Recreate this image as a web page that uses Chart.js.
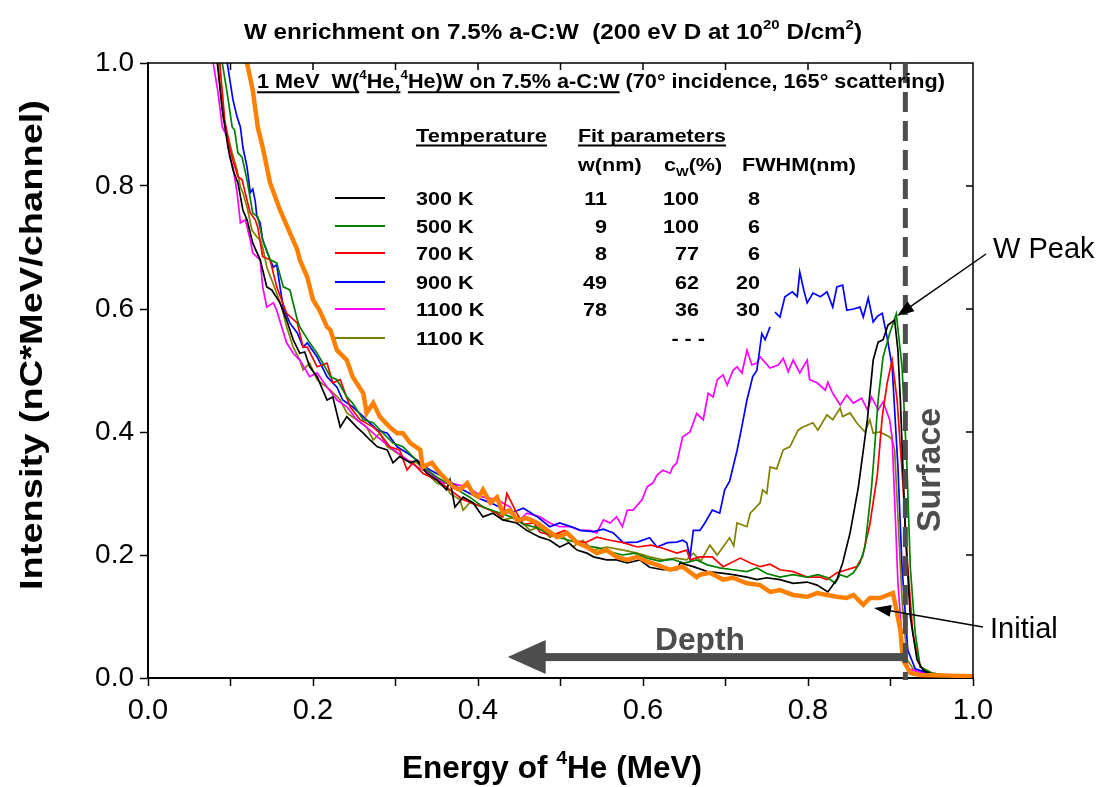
<!DOCTYPE html>
<html>
<head>
<meta charset="utf-8">
<script src="https://cdn.jsdelivr.net/npm/chart.js@4.4.1/dist/chart.umd.min.js"></script>
<style>
	html, body { margin: 0; padding: 0; background: #fff; }
	#grafico { display: block; }
</style>
</head>
<body>
<canvas id="grafico" width="1098" height="787"></canvas>
<script>
const ENERGIA_SUPERFICIE = 0.918

// espectros: [energia (MeV), intensidade]
const inicial = [
	[0.118, 1.06], [0.120, 1.0], [0.127, 0.956], [0.133, 0.896], [0.139, 0.863], [0.148, 0.805],
	[0.160, 0.761], [0.172, 0.724], [0.181, 0.696], [0.184, 0.68], [0.193, 0.652], [0.200, 0.615],
	[0.208, 0.598], [0.217, 0.571], [0.221, 0.566], [0.229, 0.533], [0.241, 0.517], [0.248, 0.49],
	[0.261, 0.463], [0.265, 0.431], [0.273, 0.447], [0.281, 0.425], [0.293, 0.408], [0.302, 0.398],
	[0.309, 0.398], [0.318, 0.382], [0.330, 0.371], [0.333, 0.343], [0.344, 0.35], [0.354, 0.333],
	[0.362, 0.322], [0.370, 0.311], [0.378, 0.306], [0.387, 0.317], [0.394, 0.3], [0.401, 0.294],
	[0.406, 0.306], [0.415, 0.285], [0.423, 0.294], [0.430, 0.268], [0.439, 0.273], [0.447, 0.257],
	[0.459, 0.26], [0.472, 0.252], [0.484, 0.24], [0.496, 0.229], [0.508, 0.236], [0.520, 0.22],
	[0.532, 0.213], [0.544, 0.203], [0.556, 0.208], [0.568, 0.197], [0.581, 0.192], [0.593, 0.197],
	[0.605, 0.189], [0.617, 0.184], [0.633, 0.176], [0.648, 0.181], [0.665, 0.164], [0.669, 0.168],
	[0.681, 0.171], [0.697, 0.16], [0.709, 0.163], [0.726, 0.154], [0.742, 0.151], [0.754, 0.14],
	[0.766, 0.143], [0.782, 0.135], [0.799, 0.132], [0.811, 0.138], [0.823, 0.135], [0.835, 0.132],
	[0.847, 0.13], [0.855, 0.135], [0.867, 0.119], [0.875, 0.13], [0.887, 0.13], [0.903, 0.138],
	[0.912, 0.078], [0.915, 0.03], [0.924, 0.008], [0.936, 0.005], [1.0, 0.003],
]
const t300 = [
	[0.080, 1.06], [0.084, 1.0], [0.090, 0.924], [0.097, 0.863], [0.103, 0.826], [0.109, 0.805],
	[0.115, 0.761], [0.120, 0.745], [0.127, 0.707], [0.136, 0.68], [0.144, 0.636], [0.150, 0.631],
	[0.160, 0.61], [0.168, 0.582], [0.176, 0.55], [0.184, 0.528], [0.190, 0.53], [0.196, 0.506],
	[0.205, 0.49], [0.217, 0.452], [0.224, 0.457], [0.233, 0.408], [0.241, 0.425], [0.253, 0.408],
	[0.261, 0.398], [0.269, 0.387], [0.278, 0.376], [0.290, 0.371], [0.297, 0.35], [0.305, 0.36],
	[0.318, 0.35], [0.326, 0.354], [0.338, 0.333], [0.350, 0.322], [0.362, 0.306], [0.366, 0.322],
	[0.372, 0.278], [0.382, 0.294], [0.394, 0.285], [0.406, 0.262], [0.418, 0.268], [0.430, 0.257],
	[0.447, 0.252], [0.459, 0.24], [0.475, 0.229], [0.487, 0.224], [0.499, 0.213], [0.510, 0.22],
	[0.520, 0.208], [0.532, 0.203], [0.540, 0.197], [0.556, 0.192], [0.568, 0.192], [0.581, 0.187],
	[0.596, 0.192], [0.608, 0.18], [0.624, 0.176], [0.641, 0.176], [0.645, 0.187], [0.661, 0.181],
	[0.678, 0.173], [0.693, 0.171], [0.709, 0.168], [0.726, 0.164], [0.738, 0.16], [0.750, 0.163],
	[0.766, 0.16], [0.782, 0.154], [0.799, 0.156], [0.811, 0.151], [0.824, 0.14], [0.835, 0.16],
	[0.842, 0.187], [0.851, 0.236], [0.861, 0.31], [0.872, 0.42], [0.879, 0.517], [0.885, 0.546],
	[0.891, 0.55], [0.897, 0.574], [0.905, 0.582], [0.909, 0.533], [0.912, 0.45], [0.918, 0.236],
	[0.924, 0.10], [0.932, 0.03], [0.940, 0.012], [0.950, 0.006], [0.970, 0.004], [1.0, 0.003],
]
const t500 = [
	[0.086, 1.06], [0.090, 1.0], [0.096, 0.951], [0.102, 0.896], [0.105, 0.891], [0.109, 0.854],
	[0.114, 0.847], [0.120, 0.81], [0.127, 0.756], [0.133, 0.75], [0.139, 0.712], [0.148, 0.68],
	[0.156, 0.675], [0.164, 0.636], [0.172, 0.631], [0.181, 0.582], [0.184, 0.571], [0.196, 0.545],
	[0.205, 0.528], [0.212, 0.512], [0.221, 0.49], [0.229, 0.485], [0.241, 0.457], [0.248, 0.447],
	[0.261, 0.42], [0.273, 0.415], [0.285, 0.398], [0.297, 0.382], [0.309, 0.376], [0.321, 0.36],
	[0.333, 0.343], [0.350, 0.327], [0.362, 0.317], [0.375, 0.306], [0.390, 0.294], [0.406, 0.278],
	[0.423, 0.27], [0.440, 0.262], [0.455, 0.25], [0.470, 0.245], [0.485, 0.235], [0.500, 0.228],
	[0.515, 0.222], [0.530, 0.215], [0.545, 0.212], [0.560, 0.205], [0.575, 0.2], [0.590, 0.203],
	[0.605, 0.195], [0.620, 0.19], [0.635, 0.193], [0.650, 0.187], [0.665, 0.192], [0.678, 0.184],
	[0.693, 0.179], [0.709, 0.176], [0.726, 0.173], [0.738, 0.179], [0.750, 0.17], [0.766, 0.164],
	[0.782, 0.168], [0.799, 0.164], [0.812, 0.168], [0.824, 0.163], [0.833, 0.154], [0.839, 0.168],
	[0.847, 0.164], [0.855, 0.171], [0.863, 0.187], [0.869, 0.213], [0.873, 0.26], [0.877, 0.31],
	[0.880, 0.36], [0.885, 0.452], [0.891, 0.522], [0.899, 0.56], [0.907, 0.592], [0.914, 0.506],
	[0.920, 0.343], [0.924, 0.18], [0.930, 0.073], [0.936, 0.018], [0.950, 0.008], [0.970, 0.004],
	[1.0, 0.003],
]
const t700 = [
	[0.083, 1.06], [0.087, 1.0], [0.093, 0.907], [0.099, 0.863], [0.103, 0.842], [0.109, 0.815],
	[0.114, 0.81], [0.120, 0.777], [0.124, 0.756], [0.130, 0.745], [0.133, 0.733], [0.139, 0.685],
	[0.148, 0.68], [0.156, 0.636], [0.168, 0.593], [0.181, 0.577], [0.188, 0.538], [0.193, 0.538],
	[0.205, 0.506], [0.217, 0.512], [0.224, 0.48], [0.233, 0.485], [0.245, 0.441], [0.257, 0.42],
	[0.273, 0.408], [0.281, 0.398], [0.293, 0.376], [0.305, 0.371], [0.314, 0.338], [0.321, 0.35],
	[0.333, 0.333], [0.350, 0.322], [0.366, 0.306], [0.382, 0.29], [0.406, 0.278], [0.420, 0.27],
	[0.430, 0.262], [0.435, 0.30], [0.447, 0.268], [0.455, 0.25], [0.468, 0.252], [0.475, 0.237],
	[0.490, 0.232], [0.505, 0.24], [0.515, 0.224], [0.530, 0.22], [0.544, 0.229], [0.560, 0.224],
	[0.576, 0.22], [0.593, 0.213], [0.610, 0.216], [0.624, 0.211], [0.641, 0.203], [0.653, 0.208],
	[0.657, 0.192], [0.669, 0.197], [0.684, 0.197], [0.697, 0.181], [0.718, 0.195], [0.730, 0.187],
	[0.742, 0.181], [0.754, 0.185], [0.766, 0.176], [0.782, 0.173], [0.799, 0.164], [0.815, 0.164],
	[0.823, 0.16], [0.835, 0.171], [0.847, 0.176], [0.859, 0.181], [0.866, 0.197], [0.875, 0.25],
	[0.884, 0.33], [0.890, 0.425], [0.896, 0.48], [0.902, 0.517], [0.908, 0.452], [0.915, 0.317],
	[0.921, 0.18], [0.927, 0.073], [0.936, 0.018], [0.950, 0.008], [0.970, 0.004], [1.0, 0.003],
]
const t900 = [
	[0.092, 1.06], [0.096, 1.0], [0.103, 0.94], [0.108, 0.912], [0.112, 0.896], [0.115, 0.863],
	[0.120, 0.831], [0.124, 0.789], [0.127, 0.795], [0.130, 0.775], [0.132, 0.75], [0.136, 0.74],
	[0.139, 0.712], [0.148, 0.68], [0.152, 0.668], [0.156, 0.672], [0.160, 0.636], [0.164, 0.603],
	[0.172, 0.577], [0.181, 0.561], [0.188, 0.538], [0.193, 0.545], [0.205, 0.522], [0.217, 0.49],
	[0.229, 0.473], [0.236, 0.452], [0.248, 0.441], [0.261, 0.425], [0.278, 0.403], [0.290, 0.398],
	[0.302, 0.376], [0.314, 0.366], [0.326, 0.354], [0.342, 0.338], [0.358, 0.327], [0.375, 0.311],
	[0.390, 0.3], [0.405, 0.29], [0.420, 0.282], [0.439, 0.268], [0.455, 0.276], [0.472, 0.262],
	[0.487, 0.246], [0.499, 0.252], [0.515, 0.245], [0.524, 0.24], [0.540, 0.238], [0.552, 0.242],
	[0.564, 0.236], [0.576, 0.22], [0.593, 0.221], [0.608, 0.228], [0.617, 0.213], [0.630, 0.22],
	[0.641, 0.221], [0.648, 0.224], [0.653, 0.22], [0.657, 0.197], [0.661, 0.24], [0.669, 0.24],
	[0.675, 0.252], [0.684, 0.273], [0.693, 0.268], [0.699, 0.306], [0.705, 0.32], [0.714, 0.37],
	[0.720, 0.41], [0.726, 0.452], [0.733, 0.49], [0.738, 0.5], [0.744, 0.56], [0.748, 0.55],
	[0.754, 0.571], [0.757, null], [0.760, 0.595], [0.766, 0.587], [0.772, 0.62], [0.781, 0.628],
	[0.787, 0.62], [0.790, 0.66], [0.795, 0.63], [0.799, 0.61], [0.806, 0.626], [0.815, 0.62],
	[0.823, 0.628], [0.830, 0.603], [0.835, 0.636], [0.842, 0.639], [0.847, 0.598], [0.855, 0.6],
	[0.863, 0.603], [0.867, 0.587], [0.873, 0.618], [0.879, 0.579], [0.884, 0.588], [0.890, 0.593],
	[0.896, 0.553], [0.902, 0.506], [0.909, 0.343], [0.914, 0.18], [0.921, 0.045], [0.930, 0.015],
	[0.950, 0.006], [0.970, 0.004], [1.0, 0.003],
]
const t1100a = [
	[0.075, 1.06], [0.079, 1.0], [0.085, 0.951], [0.090, 0.896], [0.096, 0.88], [0.099, 0.847],
	[0.103, 0.831], [0.108, 0.789], [0.112, 0.74], [0.118, 0.745], [0.124, 0.712], [0.127, 0.691],
	[0.136, 0.68], [0.139, 0.636], [0.144, 0.603], [0.152, 0.61], [0.156, 0.598], [0.162, 0.571],
	[0.168, 0.545], [0.176, 0.528], [0.184, 0.517], [0.196, 0.49], [0.205, 0.496], [0.217, 0.473],
	[0.229, 0.452], [0.241, 0.441], [0.253, 0.42], [0.265, 0.408], [0.278, 0.392], [0.293, 0.376],
	[0.309, 0.36], [0.326, 0.343], [0.342, 0.333], [0.358, 0.317], [0.366, 0.317], [0.387, 0.311],
	[0.406, 0.294], [0.423, 0.29], [0.439, 0.278], [0.447, 0.252], [0.459, 0.268], [0.475, 0.262],
	[0.487, 0.252], [0.499, 0.246], [0.512, 0.246], [0.524, 0.24], [0.536, 0.24], [0.544, 0.236],
	[0.552, 0.257], [0.560, 0.252], [0.568, 0.262], [0.575, 0.246], [0.581, 0.273], [0.588, 0.273],
	[0.599, 0.29], [0.605, 0.311], [0.612, 0.317], [0.617, 0.33], [0.624, 0.338], [0.633, 0.333],
	[0.636, 0.343], [0.641, 0.35], [0.648, 0.392], [0.657, 0.4], [0.665, 0.43], [0.673, 0.42],
	[0.679, 0.463], [0.685, 0.457], [0.690, 0.485], [0.697, 0.493], [0.702, 0.476], [0.709, 0.5],
	[0.714, 0.506], [0.720, 0.496], [0.726, 0.533], [0.732, 0.509], [0.738, 0.512], [0.742, 0.522],
	[0.754, 0.504], [0.764, 0.509], [0.770, 0.52], [0.776, 0.498], [0.782, 0.517], [0.790, 0.496],
	[0.799, 0.517], [0.802, 0.485], [0.811, 0.48], [0.821, 0.468], [0.824, 0.481], [0.830, 0.463],
	[0.839, 0.444], [0.847, 0.46], [0.855, 0.447], [0.865, 0.455], [0.872, 0.436], [0.877, 0.457],
	[0.885, 0.436], [0.891, 0.449], [0.899, 0.42], [0.902, 0.39], [0.905, 0.29], [0.909, 0.155],
	[0.915, 0.045], [0.922, 0.015], [0.940, 0.008], [0.970, 0.004], [1.0, 0.003],
]
const t1100b = [
	[0.081, 1.06], [0.085, 1.0], [0.091, 0.912], [0.096, 0.886], [0.102, 0.854], [0.108, 0.826],
	[0.112, 0.798], [0.115, 0.789], [0.120, 0.766], [0.126, 0.728], [0.132, 0.717], [0.136, 0.712],
	[0.139, 0.701], [0.144, 0.668], [0.150, 0.647], [0.156, 0.626], [0.162, 0.603], [0.168, 0.571],
	[0.176, 0.538], [0.184, 0.517], [0.188, 0.501], [0.196, 0.512], [0.205, 0.485], [0.221, 0.468],
	[0.233, 0.452], [0.241, 0.431], [0.253, 0.42], [0.265, 0.408], [0.273, 0.387], [0.281, 0.398],
	[0.290, 0.376], [0.302, 0.366], [0.314, 0.354], [0.326, 0.35], [0.338, 0.333], [0.350, 0.317],
	[0.362, 0.311], [0.366, 0.3], [0.378, 0.29], [0.382, 0.273], [0.390, 0.285], [0.406, 0.278],
	[0.423, 0.268], [0.430, 0.257], [0.447, 0.262], [0.463, 0.24], [0.475, 0.246], [0.487, 0.229],
	[0.500, 0.235], [0.515, 0.213], [0.527, 0.224], [0.539, 0.208], [0.556, 0.213], [0.576, 0.208],
	[0.593, 0.203], [0.608, 0.197], [0.624, 0.192], [0.640, 0.195], [0.653, 0.192], [0.661, 0.203],
	[0.670, 0.19], [0.681, 0.216], [0.690, 0.2], [0.697, 0.213], [0.705, 0.228], [0.710, 0.215],
	[0.714, 0.252], [0.726, 0.246], [0.730, 0.268], [0.742, 0.285], [0.745, 0.306], [0.750, 0.30],
	[0.754, 0.343], [0.762, 0.34], [0.770, 0.371], [0.778, 0.376], [0.788, 0.403], [0.794, 0.408],
	[0.806, 0.415], [0.812, 0.403], [0.823, 0.428], [0.830, 0.42], [0.839, 0.439], [0.842, 0.425],
	[0.851, 0.431], [0.859, 0.415], [0.869, 0.4], [0.875, 0.42], [0.879, 0.398], [0.887, 0.4],
	[0.899, 0.392], [0.902, 0.387], [0.905, 0.371], [0.908, 0.29], [0.914, 0.127], [0.920, 0.03],
	[0.930, 0.01], [0.950, 0.006], [0.970, 0.004], [1.0, 0.003],
]

// tabela de parametros do ajuste
const temperaturas = ["300 K", "500 K", "700 K", "900 K", "1100 K", "1100 K"]
const larguraW = ["11", "9", "8", "49", "78", ""]
const concW = ["100", "100", "77", "62", "36", "- - -"]
const fwhm = ["8", "6", "6", "20", "30", ""]
const cores = ["#000000", "#008000", "#ff0000", "#0000ff", "#ff00ff", "#808000"]
const laranja = "#ff8000"
const cinza = "#4d4d4d"

const ARIAL = '"Liberation Sans", Arial, sans-serif'

function pontos(lista) {
	return lista.map(p => ({ x: p[0], y: p[1] }))
}

// texto com partes (sobrescrito, subscrito, sublinhado), ajustado a uma largura
function escreve(ctx, partes, x, y, op) {
	const tam = op.tamanho
	const peso = op.negrito ? "bold " : ""
	const fonte = t => `${peso}${t}px ${ARIAL}`
	const pequeno = tipo => tipo == "sup" || tipo == "sub"
	let total = 0
	const medidas = partes.map(([txt, tipo]) => {
		ctx.font = fonte(pequeno(tipo) ? tam * 0.62 : tam)
		const w = ctx.measureText(txt).width
		total += w
		return w
	})
	const esc = op.largura ? op.largura / total : (op.escala || 1)
	ctx.save()
	ctx.translate(x, y)
	if (op.girar) ctx.rotate(-Math.PI / 2)
	if (op.alinhar == "center") ctx.translate(-total * esc / 2, 0)
	if (op.alinhar == "right") ctx.translate(-total * esc, 0)
	ctx.scale(esc, op.altura || 1)
	ctx.fillStyle = op.cor || "#000"
	ctx.strokeStyle = op.cor || "#000"
	ctx.textAlign = "left"
	ctx.textBaseline = "alphabetic"
	let cx = 0
	partes.forEach(([txt, tipo], i) => {
		ctx.font = fonte(pequeno(tipo) ? tam * 0.62 : tam)
		let dy = 0
		if (tipo == "sup") dy = -tam * 0.45
		if (tipo == "sub") dy = tam * 0.28
		ctx.fillText(txt, cx, dy)
		if (tipo == "u") {
			ctx.lineWidth = 2 / (op.altura || 1)
			ctx.beginPath()
			ctx.moveTo(cx, 3.5)
			ctx.lineTo(cx + medidas[i], 3.5)
			ctx.stroke()
		}
		cx += medidas[i]
	})
	ctx.restore()
}

function seta(ctx, x1, y1, x2, y2) {
	const ang = Math.atan2(y2 - y1, x2 - x1)
	ctx.save()
	ctx.strokeStyle = "#000"
	ctx.fillStyle = "#000"
	ctx.lineWidth = 1.5
	ctx.beginPath()
	ctx.moveTo(x1, y1)
	ctx.lineTo(x2 - 12 * Math.cos(ang), y2 - 12 * Math.sin(ang))
	ctx.stroke()
	ctx.beginPath()
	ctx.moveTo(x2, y2)
	ctx.lineTo(x2 - 17 * Math.cos(ang) + 6 * Math.sin(ang), y2 - 17 * Math.sin(ang) - 6 * Math.cos(ang))
	ctx.lineTo(x2 - 17 * Math.cos(ang) - 6 * Math.sin(ang), y2 - 17 * Math.sin(ang) + 6 * Math.cos(ang))
	ctx.closePath()
	ctx.fill()
	ctx.restore()
}

const decoracao = {
	id: "decoracao",
	afterDraw(chart) {
		const ctx = chart.ctx
		const area = chart.chartArea
		const sx = chart.scales.x
		const sy = chart.scales.y

		// eixo de cima e da direita
		ctx.save()
		ctx.strokeStyle = "#000"
		ctx.lineWidth = 1.5
		ctx.beginPath()
		ctx.moveTo(area.left, area.top)
		ctx.lineTo(area.right, area.top)
		ctx.lineTo(area.right, area.bottom)
		ctx.stroke()
		for (let i = 1; i < 10; i++) {
			const px = sx.getPixelForValue(i / 10)
			ctx.beginPath()
			ctx.moveTo(px, area.top)
			ctx.lineTo(px, area.top + 7)
			ctx.stroke()
		}
		for (let i = 1; i < 5; i++) {
			const py = sy.getPixelForValue(i / 5)
			ctx.beginPath()
			ctx.moveTo(area.right, py)
			ctx.lineTo(area.right - 7, py)
			ctx.stroke()
		}
		ctx.restore()

		// superficie e seta de profundidade
		const xs = sx.getPixelForValue(ENERGIA_SUPERFICIE)
		ctx.save()
		ctx.strokeStyle = cinza
		ctx.lineWidth = 5
		ctx.setLineDash([20, 9])
		ctx.beginPath()
		ctx.moveTo(xs, area.top)
		ctx.lineTo(xs, area.bottom + 2)
		ctx.stroke()
		ctx.setLineDash([])
		const yd = sy.getPixelForValue(0.034)
		const xp = sx.getPixelForValue(0.436)
		ctx.fillStyle = cinza
		ctx.fillRect(xp + 34, yd - 4, xs - xp - 34, 8)
		ctx.beginPath()
		ctx.moveTo(xp, yd)
		ctx.lineTo(xp + 38, yd - 17)
		ctx.lineTo(xp + 38, yd + 17)
		ctx.closePath()
		ctx.fill()
		ctx.restore()

		escreve(ctx, [["Depth", ""]], 655, 650, { tamanho: 32, negrito: true, cor: cinza, largura: 90 })
		escreve(ctx, [["Surface", ""]], 940, 470, { tamanho: 34, negrito: true, cor: cinza, girar: true, alinhar: "center", largura: 124 })

		// titulos
		escreve(ctx, [["W enrichment on 7.5% a-C:W  (200 eV D at 10", ""], ["20", "sup"], [" D/cm", ""], ["2", "sup"], [")", ""]],
			244, 39, { tamanho: 17, altura: 1.25, negrito: true, largura: 618 })
		escreve(ctx, [["1 MeV  W(", "u"], ["4", "sup"], ["He,", "u"], ["4", "sup"], ["He)W on 7.5% a-C:W", "u"], [" (70\u00b0 incidence, 165\u00b0 scattering)", ""]],
			257, 88, { tamanho: 17, altura: 1.2, negrito: true, largura: 688 })
		escreve(ctx, [["Energy of ", ""], ["4", "sup"], ["He (MeV)", ""]], 552, 778, { tamanho: 28, altura: 1.1, negrito: true, alinhar: "center", largura: 300 })
		escreve(ctx, [["Intensity (nC*MeV/channel)", ""]], 42, 345, { tamanho: 28, altura: 1.1, negrito: true, girar: true, alinhar: "center", largura: 490 })

		// tabela
		const op = { tamanho: 18, negrito: true, escala: 1.2 }
		escreve(ctx, [["Temperature", "u"]], 416, 142, { tamanho: 18, negrito: true, largura: 131 })
		escreve(ctx, [["Fit parameters", "u"]], 578, 142, { tamanho: 18, negrito: true, largura: 148 })
		escreve(ctx, [["w(nm)", ""]], 578, 171, op)
		escreve(ctx, [["c", ""], ["W", "sub"], ["(%)", ""]], 664, 171, op)
		escreve(ctx, [["FWHM(nm)", ""]], 742, 171, op)
		const linhas = [198, 226, 253, 282, 309, 338]
		temperaturas.forEach((t, i) => {
			const y = linhas[i]
			ctx.save()
			ctx.strokeStyle = cores[i]
			ctx.lineWidth = 2
			ctx.beginPath()
			ctx.moveTo(335, y)
			ctx.lineTo(385, y)
			ctx.stroke()
			ctx.restore()
			escreve(ctx, [[t, ""]], 416, y + 6.5, op)
			escreve(ctx, [[larguraW[i], ""]], 607, y + 6.5, { ...op, alinhar: "right" })
			escreve(ctx, [[concW[i], ""]], i == 5 ? 705 : 699, y + 6.5, { ...op, alinhar: "right" })
			escreve(ctx, [[fwhm[i], ""]], 760, y + 6.5, { ...op, alinhar: "right" })
		})

		// anotacoes
		escreve(ctx, [["W Peak", ""]], 993, 258, { tamanho: 29 })
		seta(ctx, 986, 254, 897, 316)
		escreve(ctx, [["Initial", ""]], 990, 638, { tamanho: 29 })
		seta(ctx, 983, 627, 874, 608)
	}
}

const series = [
	{ dados: inicial, cor: laranja, largura: 4.5 },
	{ dados: t300, cor: cores[0], largura: 1.7 },
	{ dados: t500, cor: cores[1], largura: 1.7 },
	{ dados: t700, cor: cores[2], largura: 1.7 },
	{ dados: t900, cor: cores[3], largura: 1.7 },
	{ dados: t1100a, cor: cores[4], largura: 1.7 },
	{ dados: t1100b, cor: cores[5], largura: 1.7 },
]

var grafico = new Chart(document.getElementById("grafico"), {
	type: "scatter",
	data: {
		datasets: series.map(s => ({
			data: pontos(s.dados),
			showLine: true,
			borderColor: s.cor,
			backgroundColor: s.cor,
			borderWidth: s.largura,
			pointRadius: 0,
			tension: 0,
			spanGaps: false,
		})),
	},
	options: {
		responsive: false,
		animation: false,
		devicePixelRatio: 1,
		layout: { padding: { top: 63, right: 125, left: 0, bottom: 0 } },
		plugins: { legend: { display: false }, tooltip: { enabled: false } },
		scales: {
			x: {
				type: "linear",
				min: 0,
				max: 1,
				ticks: {
					stepSize: 0.1,
					autoSkip: false,
					maxRotation: 0,
					padding: 8,
					color: "#000",
					font: { family: ARIAL, size: 29 },
					callback: v => (Math.round(v * 10) % 2 == 0 ? v.toFixed(1) : ""),
				},
				grid: { drawOnChartArea: false, tickLength: 8, tickWidth: 1.5, tickColor: "#000" },
				border: { color: "#000", width: 2 },
				afterFit: s => { s.height = 109 },
			},
			y: {
				min: 0,
				max: 1,
				ticks: {
					stepSize: 0.2,
					padding: 6,
					color: "#000",
					font: { family: ARIAL, size: 28 },
					callback: v => v.toFixed(1),
				},
				grid: { drawOnChartArea: false, tickLength: 8, tickWidth: 1.5, tickColor: "#000" },
				border: { color: "#000", width: 2 },
				afterFit: s => { s.width = 148 },
			},
		},
	},
	plugins: [decoracao],
})
</script>
</body>
</html>
